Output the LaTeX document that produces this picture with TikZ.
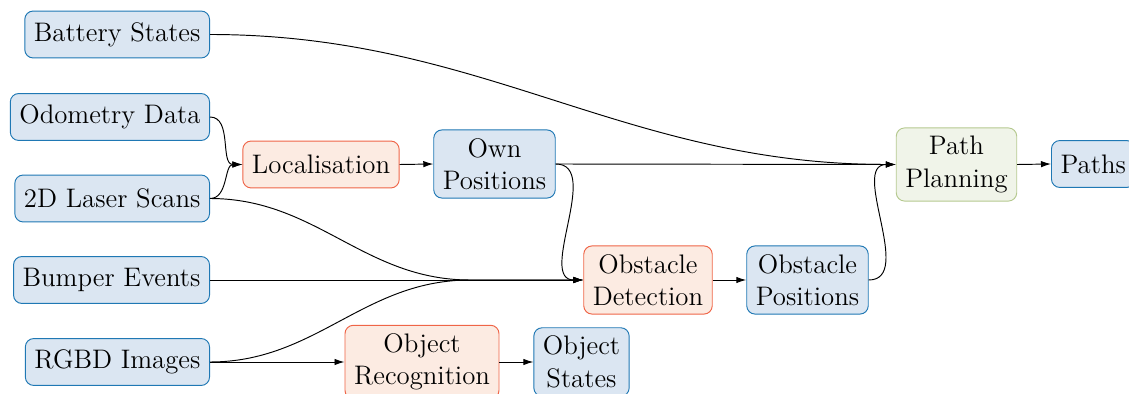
\documentclass[tikz,border=0pt]{standalone}
\usetikzlibrary{arrows.meta}
\definecolor{dataline}{RGB}{31,120,180}
\definecolor{datafill}{RGB}{219,230,242}
\definecolor{procline}{RGB}{239,101,72}
\definecolor{procfill}{RGB}{252,235,226}
\definecolor{planline}{RGB}{181,201,143}
\definecolor{planfill}{RGB}{240,244,233}
\tikzset{
  box/.style={rounded corners=3.5pt, minimum height=19.7pt, align=center,
    inner xsep=3.8pt, inner ysep=3.5pt,
    font=\fontsize{11.25}{13.6}\selectfont},
  data/.style={box, draw=dataline, fill=datafill},
  proc/.style={box, draw=procline, fill=procfill},
  plan/.style={box, draw=planline, fill=planfill},
  arr/.style={-{Latex[length=4.2pt,width=2.7pt]}},
}
\begin{document}
\begin{tikzpicture}[x=0.42pt,y=-0.42pt]
\useasboundingbox (0,0) rectangle (1129,394);

% sensor inputs, right-aligned
\node[data, anchor=east] (bat)   at (210,34.5) {Battery States};
\node[data, anchor=east] (odo)   at (210,117)  {Odometry Data};
\node[data, anchor=east] (laser) at (210,198.5){2D Laser Scans};
\node[data, anchor=east] (bump)  at (210,280)  {Bumper Events};
\node[data, anchor=east] (rgbd)  at (210,362)  {RGBD Images};

% processing stages and their outputs
\node[proc] (loc)  at (321,164.5) {Localisation};
\node[data] (own)  at (494.5,164) {Own\\Positions};
\node[proc] (odet) at (648,280)   {Obstacle\\Detection};
\node[data] (opos) at (807.5,280) {Obstacle\\Positions};
\node[plan] (pp)   at (956.5,164.5) {Path\\Planning};
\node[data, anchor=west] (paths) at (1051,164) {Paths};
\node[proc] (orec) at (422,362) {Object\\Recognition};
\node[data] (ost)  at (581.5,362) {Object\\States};

\coordinate (merge) at (470,280);

% connectors
\draw[arr] (bat.east) to[out=0,in=180] (pp.west);
\draw[arr] (odo.east) to[out=0,in=180] (loc.west);
\draw[arr] (laser.east) to[out=0,in=180] (loc.west);
\draw[arr] (laser.east) to[out=0,in=180] (merge) -- (odet.west);
\draw[arr] (bump.east) -- (odet.west);
\draw[arr] (rgbd.east) to[out=0,in=180] (merge) -- (odet.west);
\draw[arr] (rgbd.east) -- (orec.west);
\draw[arr] (loc.east) -- (own.west);
\draw[arr] (own.east) -- (pp.west);
\draw[arr] (own.east) to[out=0,in=180] (odet.west);
\draw[arr] (odet.east) -- (opos.west);
\draw[arr] (opos.east) to[out=0,in=180] (pp.west);
\draw[arr] (pp.east) -- (paths.west);
\draw[arr] (orec.east) -- (ost.west);
\end{tikzpicture}
\end{document}
